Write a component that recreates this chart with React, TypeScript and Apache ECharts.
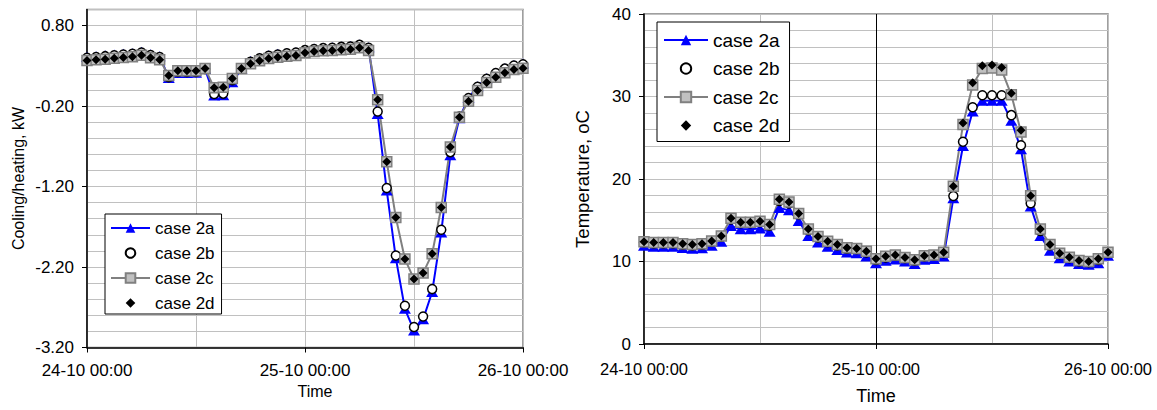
import React, { useEffect, useRef } from 'react';
import * as echarts from 'echarts';

const FONT = "'Liberation Sans', Arial, Helvetica, sans-serif";

// time axis: hours since 24-10 00:00
const hours = Array.from({ length: 49 }, (_, i) => i);
const xTickHours = [0, 24, 48];
const xTickLabels = ['24-10 00:00', '25-10 00:00', '26-10 00:00'];
const seriesNames = ['case 2a', 'case 2b', 'case 2c', 'case 2d'];

// Cooling/heating, kW
const kw2a = [0.41, 0.42, 0.43, 0.44, 0.45, 0.455, 0.475, 0.445, 0.42, 0.15, 0.21, 0.21, 0.215, 0.26, -0.07, -0.065, 0.095, 0.265, 0.36, 0.4, 0.43, 0.45, 0.46, 0.47, 0.5, 0.515, 0.525, 0.53, 0.54, 0.545, 0.565, 0.53, -0.3, -1.25, -2.09, -2.72, -2.99, -2.85, -2.51, -1.77, -0.81, -0.35, -0.1, 0.045, 0.145, 0.215, 0.27, 0.31, 0.33];
const kw2b = [0.4, 0.41, 0.42, 0.43, 0.44, 0.45, 0.465, 0.435, 0.41, 0.16, 0.225, 0.225, 0.225, 0.26, -0.05, -0.045, 0.12, 0.27, 0.35, 0.395, 0.425, 0.44, 0.455, 0.465, 0.495, 0.51, 0.52, 0.525, 0.535, 0.54, 0.56, 0.525, -0.267, -1.219, -2.056, -2.681, -2.946, -2.814, -2.474, -1.737, -0.772, -0.33, -0.1, 0.04, 0.14, 0.21, 0.265, 0.305, 0.32];
const kw2c = [0.366, 0.375, 0.383, 0.395, 0.404, 0.414, 0.433, 0.4, 0.375, 0.18, 0.238, 0.238, 0.238, 0.267, 0.027, 0.035, 0.143, 0.267, 0.325, 0.362, 0.391, 0.408, 0.42, 0.429, 0.462, 0.478, 0.487, 0.49, 0.499, 0.507, 0.524, 0.491, -0.122, -0.892, -1.584, -2.101, -2.35, -2.275, -2.035, -1.46, -0.71, -0.338, -0.139, -0.006, 0.093, 0.159, 0.213, 0.255, 0.271];
const kw2d = [0.366, 0.375, 0.383, 0.395, 0.404, 0.414, 0.433, 0.4, 0.375, 0.18, 0.238, 0.238, 0.238, 0.267, 0.027, 0.035, 0.143, 0.267, 0.325, 0.362, 0.391, 0.408, 0.42, 0.429, 0.462, 0.478, 0.487, 0.49, 0.499, 0.507, 0.524, 0.491, -0.122, -0.892, -1.584, -2.101, -2.35, -2.275, -2.035, -1.46, -0.71, -0.338, -0.139, -0.006, 0.093, 0.159, 0.213, 0.255, 0.271];
const kwLabelTicks = [-3.2, -2.2, -1.2, -0.2, 0.8];

// Temperature, oC
const t2a = [11.9, 11.8, 11.8, 11.8, 11.65, 11.55, 11.6, 11.9, 12.4, 14.3, 13.9, 13.9, 14.0, 13.6, 16.5, 16.2, 14.9, 13.1, 12.3, 11.8, 11.4, 11.1, 11.0, 10.6, 9.8, 10.1, 10.25, 10.0, 9.7, 10.2, 10.3, 10.6, 17.66, 24.0, 28.17, 29.5, 29.5, 29.5, 27.06, 23.6, 16.67, 13.1, 11.3, 10.4, 10.0, 9.7, 9.6, 9.8, 10.7];
const t2b = [12.3, 12.2, 12.2, 12.2, 12.05, 11.95, 12.05, 12.4, 13.0, 15.1, 14.65, 14.65, 14.75, 14.35, 17.35, 17.05, 15.7, 13.8, 12.9, 12.35, 11.95, 11.55, 11.5, 11.1, 10.2, 10.5, 10.7, 10.4, 10.1, 10.6, 10.7, 11.0, 17.94, 24.52, 28.69, 30.16, 30.16, 30.16, 27.74, 24.09, 17.06, 13.7, 11.95, 10.9, 10.4, 10.0, 9.9, 10.2, 11.0];
const t2c = [12.38, 12.3, 12.3, 12.3, 12.14, 12.06, 12.14, 12.5, 13.1, 15.24, 14.76, 14.76, 14.88, 14.48, 17.54, 17.22, 15.83, 13.93, 13.02, 12.46, 12.06, 11.67, 11.59, 11.23, 10.32, 10.63, 10.79, 10.48, 10.2, 10.71, 10.79, 11.11, 19.13, 26.6, 31.4, 33.4, 33.45, 33.2, 30.2, 25.7, 17.98, 13.93, 12.06, 10.99, 10.52, 10.12, 10.0, 10.32, 11.11];
const t2d = [12.38, 12.3, 12.3, 12.3, 12.14, 12.06, 12.14, 12.5, 13.1, 15.24, 14.76, 14.76, 14.88, 14.48, 17.54, 17.22, 15.83, 13.93, 13.02, 12.46, 12.06, 11.67, 11.59, 11.23, 10.32, 10.63, 10.79, 10.48, 10.2, 10.71, 10.79, 11.11, 19.13, 26.79, 31.67, 33.73, 33.81, 33.53, 30.4, 25.91, 17.98, 13.93, 12.06, 10.99, 10.52, 10.12, 10.0, 10.32, 11.11];
const tLabelTicks = [0, 10, 20, 30, 40];

const GRID_GRAY = '#c0c0c0';

const pair = (vals: number[]) => hours.map((h, i) => [h, vals[i]]);

function seriesSet(vals: number[][], xi: number, yi: number, markerLineAt?: number) {
  const [a, b, c, d] = vals;
  const common = {
    type: 'line',
    xAxisIndex: xi,
    yAxisIndex: yi,
    showSymbol: true,
    showAllSymbol: true,
    emphasis: { disabled: true },
    silent: true,
    animation: false,
  };
  const sa: any = {
    ...common,
    name: 'case 2a',
    data: pair(a),
    symbol: 'triangle',
    symbolSize: [12, 10],
    itemStyle: { color: '#0000ff' },
    lineStyle: { color: '#0000ff', width: 2 },
  };
  if (markerLineAt !== undefined) {
    sa.markLine = {
      silent: true,
      z: 1,
      symbol: ['none', 'none'],
      label: { show: false },
      lineStyle: { color: '#000', width: 1, type: 'solid' },
      data: [{ xAxis: markerLineAt }],
    };
  }
  return [
    sa,
    {
      ...common,
      name: 'case 2b',
      data: pair(b),
      symbol: 'circle',
      symbolSize: 9,
      itemStyle: { color: '#ffffff', borderColor: '#000000', borderWidth: 1.5 },
      lineStyle: { color: '#000', width: 0, opacity: 0 },
    },
    {
      ...common,
      name: 'case 2c',
      data: pair(c),
      symbol: 'rect',
      symbolSize: 10,
      itemStyle: { color: '#c0c0c0', borderColor: '#808080', borderWidth: 1.5 },
      lineStyle: { color: '#808080', width: 2 },
    },
    {
      ...common,
      name: 'case 2d',
      data: pair(d),
      symbol: 'diamond',
      symbolSize: 9,
      itemStyle: { color: '#000000' },
      lineStyle: { color: '#000', width: 0, opacity: 0 },
    },
  ];
}

function xAxisCfg(gridIndex: number, labelSize: number, labelMargin: number, nameSize: number, nameGap: number, namePadLeft: number) {
  return {
    type: 'value',
    gridIndex,
    min: 0,
    max: 48,
    interval: 24,
    axisLine: { show: true, onZero: false, lineStyle: { color: '#000', width: 1.5 } },
    axisTick: { show: true, length: 5, lineStyle: { color: '#000', width: 1 } },
    axisLabel: {
      margin: labelMargin,
      fontSize: labelSize,
      fontFamily: FONT,
      color: '#000',
      formatter: (v: number) => {
        const i = xTickHours.indexOf(Math.round(v));
        return i >= 0 ? xTickLabels[i] : '';
      },
    },
    splitLine: { show: true, lineStyle: { color: GRID_GRAY, width: 1 } },
    minorTick: { show: false, splitNumber: 2 },
    minorSplitLine: { show: true, lineStyle: { color: GRID_GRAY, width: 1 } },
    name: 'Time',
    nameLocation: 'middle',
    nameGap,
    nameTextStyle: { fontSize: nameSize, fontFamily: FONT, color: '#000', padding: [0, 0, 0, namePadLeft] },
  };
}

function legendCfg(left: number, top: number, itemWidth: number, itemHeight: number, itemGap: number, padding: number[], fontSize: number, lineHeight: number) {
  return {
    show: true,
    orient: 'vertical',
    left,
    top,
    data: seriesNames,
    itemWidth,
    itemHeight,
    itemGap,
    padding,
    align: 'left',
    selectedMode: false,
    borderColor: '#000',
    borderWidth: 1,
    backgroundColor: '#ffffff',
    textStyle: { fontSize, fontFamily: FONT, color: '#000', lineHeight },
  };
}

export default function App() {
  const ref = useRef<HTMLDivElement>(null);
  useEffect(() => {
    if (!ref.current) return;
    const chart = echarts.init(ref.current, undefined, { renderer: 'svg' });
    const option: any = {
      animation: false,
      backgroundColor: '#ffffff',
      textStyle: { fontFamily: FONT },
      grid: [
        { left: 87, top: 9.5, width: 436, height: 338, show: true, borderColor: '#808080', borderWidth: 1.5, backgroundColor: 'transparent', containLabel: false },
        { left: 644, top: 14, width: 464, height: 336, show: true, borderColor: '#808080', borderWidth: 1.5, backgroundColor: 'transparent', containLabel: false },
      ],
      legend: [
        legendCfg(105, 214, 39, 12, 5, [4, 7, 1, 5], 17, 20),
        legendCfg(657, 22, 44, 13, 6.5, [7, 10, 5, 6], 19, 22),
      ],
      xAxis: [
        xAxisCfg(0, 17, 14, 16, 33, 20),
        xAxisCfg(1, 16.5, 16, 18, 43, 0),
      ],
      yAxis: [
        {
          type: 'value',
          gridIndex: 0,
          position: 'left',
          min: -3.2,
          max: 1.0,
          interval: 0.2,
          axisLine: { show: true, onZero: false, lineStyle: { color: '#000', width: 1.5 } },
          axisTick: { show: false },
          axisLabel: {
            margin: 13,
            fontSize: 17,
            fontFamily: FONT,
            color: '#000',
            formatter: (v: number) => (kwLabelTicks.some((t) => Math.abs(t - v) < 1e-6) ? v.toFixed(2) : ''),
          },
          splitLine: { show: true, lineStyle: { color: GRID_GRAY, width: 1 } },
          name: 'Cooling/heating, kW',
          nameLocation: 'middle',
          nameGap: 61,
          nameTextStyle: { fontSize: 16, fontFamily: FONT, color: '#000' },
        },
        {
          type: 'value',
          gridIndex: 0,
          position: 'left',
          min: -3.2,
          max: 1.0,
          axisLine: { show: false },
          axisTick: { show: true, length: 5, customValues: kwLabelTicks, lineStyle: { color: '#000', width: 1 } },
          axisLabel: { show: false },
          splitLine: { show: false },
        },
        {
          type: 'value',
          gridIndex: 1,
          position: 'left',
          min: 0,
          max: 40,
          interval: 2,
          axisLine: { show: true, onZero: false, lineStyle: { color: '#000', width: 1.5 } },
          axisTick: { show: false },
          axisLabel: {
            margin: 13,
            fontSize: 17,
            fontFamily: FONT,
            color: '#000',
            formatter: (v: number) => (tLabelTicks.some((t) => Math.abs(t - v) < 1e-6) ? String(Math.round(v)) : ''),
          },
          splitLine: { show: true, lineStyle: { color: GRID_GRAY, width: 1 } },
          name: 'Temperature, oC',
          nameLocation: 'middle',
          nameGap: 52,
          nameTextStyle: { fontSize: 18.5, fontFamily: FONT, color: '#000' },
        },
        {
          type: 'value',
          gridIndex: 1,
          position: 'left',
          min: 0,
          max: 40,
          interval: 10,
          axisLine: { show: false },
          axisTick: { show: true, length: 5, lineStyle: { color: '#000', width: 1 } },
          axisLabel: { show: false },
          splitLine: { show: false },
        },
      ],
      series: [
        ...seriesSet([kw2a, kw2b, kw2c, kw2d], 0, 0),
        ...seriesSet([t2a, t2b, t2c, t2d], 1, 2, 24),
      ],
    };
    chart.setOption(option);
    return () => {
      chart.dispose();
    };
  }, []);
  return (
    <div
      ref={ref}
      style={{ position: 'absolute', left: 0, top: 0, width: 1157, height: 410, background: '#fff' }}
    />
  );
}
